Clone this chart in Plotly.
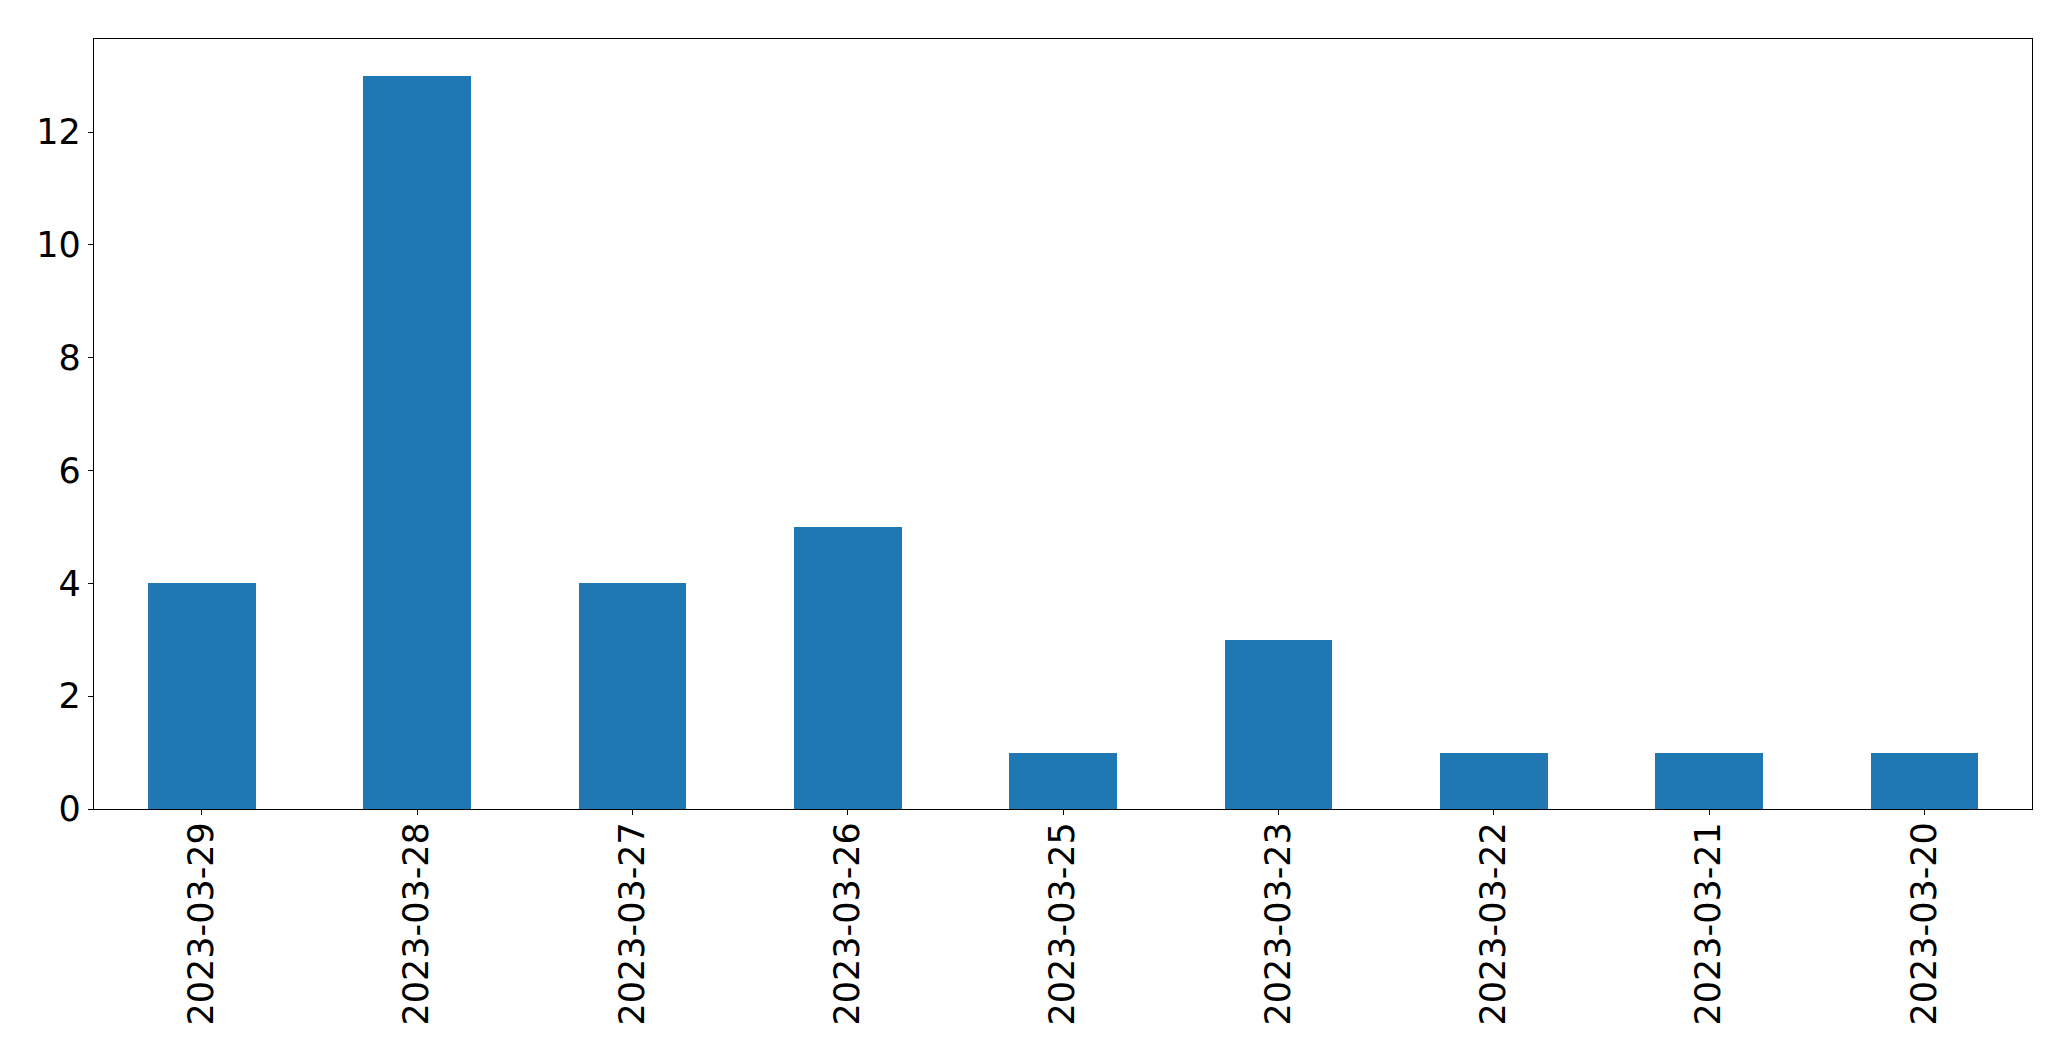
import plotly.graph_objects as go

dates = ["2023-03-29", "2023-03-28", "2023-03-27", "2023-03-26", "2023-03-25",
         "2023-03-23", "2023-03-22", "2023-03-21", "2023-03-20"]
counts = [4, 13, 4, 5, 1, 3, 1, 1, 1]
y_ticks = [0, 2, 4, 6, 8, 10, 12]

fig = go.Figure(go.Bar(x=dates, y=counts, marker=dict(color="#1f77b4", line=dict(width=0)), width=0.5))

font = dict(family="DejaVu Sans", size=35, color="black")
fig.update_layout(
    width=2071, height=1061,
    margin=dict(l=94, r=39, t=39, b=252),
    plot_bgcolor="white", paper_bgcolor="white",
    showlegend=False,
    bargap=0,
)
fig.update_xaxes(
    type="category", range=[-0.5, 8.5],
    showline=True, linecolor="black", linewidth=1.3, mirror=True,
    ticks="outside", ticklen=5, tickwidth=1.3, tickcolor="black",
    tickangle=-90, tickfont=font, showgrid=False, ticklabelstandoff=-7,
)
fig.update_yaxes(
    range=[0, 13.65], tickvals=y_ticks,
    showline=True, linecolor="black", linewidth=1.3, mirror=True,
    ticks="outside", ticklen=5, tickwidth=1.3, tickcolor="black",
    tickfont=font, showgrid=False, zeroline=False, ticklabelstandoff=0,
)
fig.write_html("out.html", config={"displayModeBar": False},
               post_script="document.body.style.margin='0';document.body.style.overflow='hidden';")
